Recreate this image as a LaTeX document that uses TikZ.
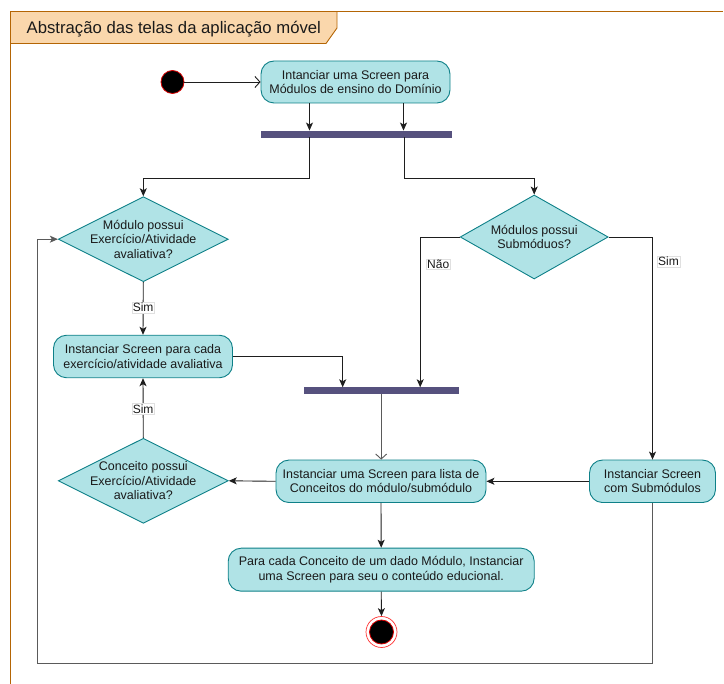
\documentclass[tikz,border=0pt]{standalone}
\usepackage{fontspec}
\setmainfont{Liberation Sans}
\usetikzlibrary{shapes.geometric,arrows.meta}
\definecolor{actfill}{HTML}{B0E3E6}
\definecolor{actline}{HTML}{0E8088}
\definecolor{barfill}{HTML}{56517E}
\definecolor{tabfill}{HTML}{FAD7AC}
\definecolor{tabline}{HTML}{B46504}
\definecolor{flow}{HTML}{1E1E1E}
\definecolor{flowgray}{HTML}{5A5A5A}
\definecolor{inkc}{HTML}{1A1A1A}

\tikzset{
  txt/.style={text=inkc, font=\fontsize{12.5}{14.4}\selectfont, align=center},
  activity/.style={txt, draw=actline, fill=actfill, rounded corners=13pt,
    line width=0.9pt, inner sep=0pt},
  decision/.style={diamond, draw=actline, fill=actfill, line width=0.9pt,
    inner sep=0pt},
  forkbar/.style={rectangle, draw=barfill, fill=barfill, inner sep=0pt},
  lbl/.style={text=inkc, font=\fontsize{12}{14}\selectfont, fill=white,
    draw=black!12, line width=0.3pt, inner sep=1pt},
  arr/.style={draw=flow, line width=0.9pt,
    -{Stealth[length=8pt,width=7pt,inset=2pt]}},
  openarr/.style={draw=flow, line width=0.9pt,
    -{Straight Barb[length=5pt,width=11pt]}},
}

\begin{document}
\begin{tikzpicture}[x=1pt,y=-1pt]
\useasboundingbox (0,0) rectangle (724,684);

% frame with title tab
\fill[tabfill] (10,12) -- (337,12) -- (337,28) -- (326,43.5) -- (10,43.5) -- cycle;
\draw[tabline, line width=0.9pt] (337,12) -- (337,28) -- (326,43.5) -- (10,43.5);
\draw[tabline, line width=1pt] (723,12) -- (10,12) -- (10,684);
\node[anchor=west, text=inkc, font=\fontsize{16.7}{19}\selectfont, inner sep=0pt]
  (title) at (26.5,29) {Abstração das telas da aplicação móvel};

% initial and final states
\node[circle, fill=black, draw=red!85!black, line width=0.8pt, minimum size=23pt,
  inner sep=0pt] (start) at (172.5,82) {};
\node[circle, draw=red!80, fill=white, line width=0.7pt, minimum size=31pt,
  inner sep=0pt] (end) at (381.5,632) {};
\node[circle, fill=black, draw=red!85!black, line width=0.8pt, minimum size=24pt,
  inner sep=0pt] (endin) at (end) {};

% activities
\node[activity, minimum width=189pt, minimum height=42pt] (b1) at (355.5,82)
  {Intanciar uma Screen para\\Módulos de ensino do Domínio};
\node[activity, minimum width=179pt, minimum height=42.5pt] (b2) at (143,356.5)
  {Instanciar Screen para cada\\exercício/atividade avaliativa};
\node[activity, minimum width=210pt, minimum height=42.5pt] (b3) at (381,481.3)
  {Instanciar uma Screen para lista de\\Conceitos do módulo/submódulo};
\node[activity, minimum width=126pt, minimum height=42.5pt] (b4) at (652.5,481.3)
  {Instanciar Screen\\com Submódulos};
\node[activity, minimum width=306pt, minimum height=43pt] (b5) at (381.2,569.7)
  {Para cada Conceito de um dado Módulo, Instanciar\\uma Screen para seu o conteúdo educional.};

% fork / join bars
\node[forkbar, minimum width=190pt, minimum height=6.5pt] (bar1) at (356.5,134) {};
\node[forkbar, minimum width=154pt, minimum height=6pt] (bar2) at (381.2,390.5) {};

% decisions
\node[decision, minimum width=170pt, minimum height=85pt] (d1) at (143.3,239.2) {};
\node[txt] at (d1) {Módulo possui\\Exercício/Atividade\\avaliativa?};
\node[decision, minimum width=148pt, minimum height=84pt] (d2) at (534.2,237) {};
\node[txt] at (d2) {Módulos possui\\Submóduos?};
\node[decision, minimum width=170pt, minimum height=85pt] (d3) at (143.3,480.8) {};
\node[txt] at (d3) {Conceito possui\\Exercício/Atividade\\avaliativa?};

\coordinate (loopL) at (37.7,663);

% flows
\draw[openarr] (start) -- (b1.west);
\draw[arr] ([xshift=-46pt]b1.south) -- ([xshift=-46pt]b1.south |- bar1.north);
\draw[arr] ([xshift=48pt]b1.south) -- ([xshift=48pt]b1.south |- bar1.north);
\draw[arr] ([xshift=-47pt]bar1.south) -- ++(0,41) -| (d1.north);
\draw[arr] ([xshift=47.5pt]bar1.south) -- ++(0,41) -| (d2.north);
\draw[arr] (d2.west) -| ([xshift=39pt]bar2.north)
  node[lbl, pos=0.59, xshift=18pt] {Não};
\draw[arr] (d2.east) -| (b4.north)
  node[lbl, pos=0.555, xshift=16pt] {Sim};
\draw[arr] (d1.south) -- (b2.north) node[lbl, midway, yshift=1pt] {Sim};
\draw[arr] (b2.east) -| ([xshift=-38.5pt]bar2.north);
\draw[openarr, draw=flowgray] (bar2.south) -- (bar2.south |- b3.north);
\draw[arr] (b4.west) -- (b3.east);
\draw[arr] (b3.west) -- (d3.east);
\draw[arr] (d3.north) -- (b2.south) node[lbl, midway, yshift=-1pt] {Sim};
\draw[arr] (b3.south) -- (b5.north);
\draw[arr] (b5.south) -- (end.north);
\draw[arr, draw=flowgray] (b4.south) |- (loopL) |- (d1.west);
\end{tikzpicture}
\end{document}
